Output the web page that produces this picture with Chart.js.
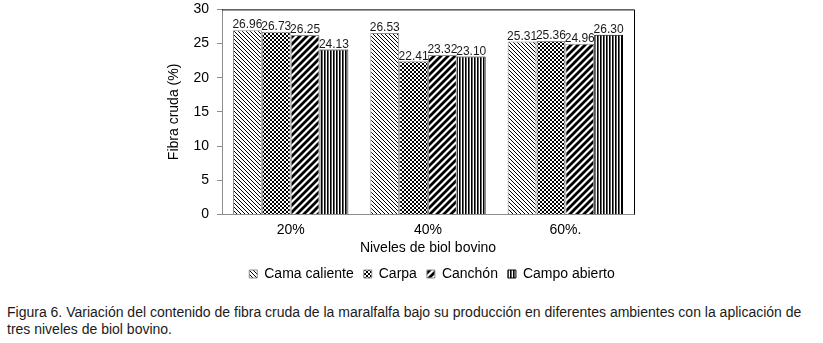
<!DOCTYPE html>
<html>
<head>
<meta charset="utf-8">
<script src="https://cdn.jsdelivr.net/npm/chart.js@4.4.1/dist/chart.umd.min.js"></script>
<style>
  body { margin: 0; background: #fff; width: 823px; height: 343px; overflow: hidden; position: relative; }
  #wrap { position: absolute; left: 0; top: -7px; width: 823px; height: 306px; }
  #caption { position: absolute; left: 7px; top: 304px; width: 805px; font: 14px "Liberation Sans", Arial, sans-serif; line-height: 17px; color: #1a1a1a; }
</style>
</head>
<body>
<div id="wrap"><canvas id="chart"></canvas></div>
<div id="caption">Figura 6. Variación del contenido de fibra cruda de la maralfalfa bajo su producción en diferentes ambientes con la aplicación de tres niveles de biol bovino.</div>
<script>
// Data
const niveles = ['20%', '40%', '60%.'];
const camaCaliente = [26.96, 26.53, 25.31];
const carpa = [26.73, 22.41, 25.36];
const canchon = [26.25, 23.32, 24.96];
const campoAbierto = [24.13, 23.10, 26.30];
const yTicks = [0, 5, 10, 15, 20, 25, 30];

const FONT = '"Liberation Sans", Arial, sans-serif';

// Fill patterns (black & white hatches, like the original)
function makePattern(size, draw) {
    const c = document.createElement('canvas');
    c.width = size; c.height = size;
    const g = c.getContext('2d');
    g.fillStyle = '#fff';
    g.fillRect(0, 0, size, size);
    g.fillStyle = '#000';
    g.strokeStyle = '#000';
    draw(g, size);
    return c.getContext('2d').createPattern(c, 'repeat');
}

// thin "\" lines
const patCama = makePattern(4, function(g) {
    for (let i = 0; i < 4; i++) g.fillRect(i, i, 1, 1);
});
// small checker
const patCarpa = makePattern(4, function(g) {
    g.fillRect(0, 0, 2, 2);
    g.fillRect(2, 2, 2, 2);
});
// thick "/" lines
const patCanchon = makePattern(7, function(g) {
    g.lineWidth = 2.8;
    g.beginPath();
    g.moveTo(-1, 8); g.lineTo(8, -1);
    g.moveTo(-5, 5); g.lineTo(5, -5);
    g.moveTo(2, 12); g.lineTo(12, 2);
    g.stroke();
});
// vertical lines
const patCampo = makePattern(3, function(g) {
    g.fillRect(0, 0, 1.6, 3);
});

// value labels above bars
const valueLabels = {
    id: 'valueLabels',
    afterDatasetsDraw(chart) {
        const ctx = chart.ctx;
        ctx.save();
        ctx.font = '12px ' + FONT;
        ctx.fillStyle = '#1a1a1a';
        ctx.textAlign = 'center';
        ctx.textBaseline = 'bottom';
        chart.data.datasets.forEach(function(ds, i) {
            chart.getDatasetMeta(i).data.forEach(function(bar, j) {
                ctx.fillText(ds.data[j].toFixed(2), bar.x, bar.y + 1);
            });
        });
        ctx.restore();
    }
};

// plot area frame (top and right sides in black)
const plotFrame = {
    id: 'plotFrame',
    beforeDatasetsDraw(chart) {
        const a = chart.chartArea;
        const ctx = chart.ctx;
        ctx.save();
        ctx.strokeStyle = '#000';
        ctx.lineWidth = 1;
        ctx.beginPath();
        ctx.moveTo(a.left, a.top + 0.5);
        ctx.lineTo(a.right + 0.5, a.top + 0.5);
        ctx.lineTo(a.right + 0.5, a.bottom);
        ctx.stroke();
        ctx.restore();
    }
};

// center the legend under the plot area, as in the original
const legendUnderPlot = {
    id: 'legendUnderPlot',
    afterLayout(chart) {
        const lg = chart.legend;
        const a = chart.chartArea;
        if (!lg) return;
        lg.left = a.left + 4;
        lg.right = a.right + 4;
        lg.width = lg.right - lg.left;
    }
};

new Chart(document.getElementById('chart'), {
    type: 'bar',
    data: {
        labels: niveles,
        datasets: [
            { label: 'Cama caliente', data: camaCaliente, backgroundColor: patCama, borderColor: '#8c8c8c', borderWidth: 1 },
            { label: 'Carpa', data: carpa, backgroundColor: patCarpa, borderColor: '#8c8c8c', borderWidth: 1 },
            { label: 'Canchón', data: canchon, backgroundColor: patCanchon, borderColor: '#8c8c8c', borderWidth: 1 },
            { label: 'Campo abierto', data: campoAbierto, backgroundColor: patCampo, borderColor: '#000', borderWidth: 1 }
        ]
    },
    options: {
        responsive: true,
        maintainAspectRatio: false,
        animation: false,
        layout: { padding: { left: 162, right: 189, top: -5, bottom: 8 } },
        datasets: { bar: { barPercentage: 1.0, categoryPercentage: 0.84 } },
        plugins: {
            legend: {
                position: 'bottom',
                labels: {
                    font: { family: FONT, size: 14 },
                    color: '#000',
                    boxWidth: 8,
                    boxHeight: 8,
                    padding: 10
                }
            },
            tooltip: { enabled: false }
        },
        scales: {
            x: {
                grid: { display: false, drawTicks: false },
                border: { color: '#8c8c8c' },
                ticks: { font: { family: FONT, size: 14 }, color: '#000', padding: 7 },
                title: { display: true, text: 'Niveles de biol bovino', font: { family: FONT, size: 14 }, color: '#000', padding: { top: -5, bottom: 0 } }
            },
            y: {
                min: 0,
                max: 30,
                afterBuildTicks(scale) { scale.ticks = yTicks.map(v => ({ value: v })); },
                afterFit(scale) { scale.width = 60; },
                grid: { drawOnChartArea: false, drawTicks: true, tickLength: 5, color: '#8c8c8c' },
                border: { color: '#8c8c8c' },
                ticks: { font: { family: FONT, size: 14 }, color: '#000', padding: 8 },
                title: { display: true, text: 'Fibra cruda (%)', font: { family: FONT, size: 14 }, color: '#000', padding: { top: 4, bottom: 4 } }
            }
        }
    },
    plugins: [valueLabels, plotFrame, legendUnderPlot]
});
</script>
</body>
</html>
